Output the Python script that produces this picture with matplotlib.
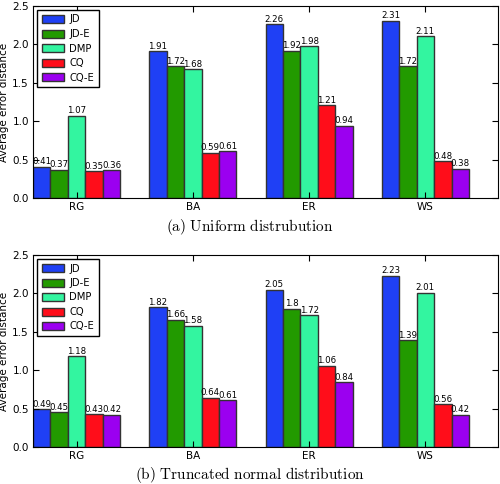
import numpy as np
import matplotlib
matplotlib.use('Agg')
import matplotlib.pyplot as plt

plt.rcParams['mathtext.fontset'] = 'cm'

groups = ['RG', 'BA', 'ER', 'WS']
methods = ['JD', 'JD-E', 'DMP', 'CQ', 'CQ-E']
colors = ['#1f40f5', '#229a00', '#33f5a0', '#ff0d1a', '#9b00f0']

# uniform distribution
uniform = {
    'JD':   [0.41, 1.91, 2.26, 2.31],
    'JD-E': [0.37, 1.72, 1.92, 1.72],
    'DMP':  [1.07, 1.68, 1.98, 2.11],
    'CQ':   [0.35, 0.59, 1.21, 0.48],
    'CQ-E': [0.36, 0.61, 0.94, 0.38],
}
uniform_labels = {
    'JD':   ['0.41', '1.91', '2.26', '2.31'],
    'JD-E': ['0.37', '1.72', '1.92', '1.72'],
    'DMP':  ['1.07', '1.68', '1.98', '2.11'],
    'CQ':   ['0.35', '0.59', '1.21', '0.48'],
    'CQ-E': ['0.36', '0.61', '0.94', '0.38'],
}

# truncated normal distribution
normal = {
    'JD':   [0.49, 1.82, 2.05, 2.23],
    'JD-E': [0.45, 1.66, 1.80, 1.39],
    'DMP':  [1.18, 1.58, 1.72, 2.01],
    'CQ':   [0.43, 0.64, 1.06, 0.56],
    'CQ-E': [0.42, 0.61, 0.84, 0.42],
}
normal_labels = {
    'JD':   ['0.49', '1.82', '2.05', '2.23'],
    'JD-E': ['0.45', '1.66', '1.8', '1.39'],
    'DMP':  ['1.18', '1.58', '1.72', '2.01'],
    'CQ':   ['0.43', '0.64', '1.06', '0.56'],
    'CQ-E': ['0.42', '0.61', '0.84', '0.42'],
}

width = 0.15
x = np.arange(len(groups))


def draw(ax, data, labels):
    for i, m in enumerate(methods):
        bars = ax.bar(x + i * width, data[m], width, align='edge', color=colors[i],
                      edgecolor='#333333', linewidth=1.0, label=m)
        for b, t in zip(bars, labels[m]):
            ax.text(b.get_x() + b.get_width() / 2, b.get_height() + 0.005, t,
                    ha='center', va='bottom', fontsize=6.2)
    ax.set_xlim(0, 4)
    ax.set_ylim(0, 2.5)
    ax.set_yticks([0.0, 0.5, 1.0, 1.5, 2.0, 2.5])
    ax.set_yticklabels(['0.0', '0.5', '1.0', '1.5', '2.0', '2.5'])
    ax.set_xticks(x + 2.5 * width)
    ax.set_xticklabels(groups)
    ax.tick_params(labelsize=7.5, direction='in', length=4, top=True, right=True, pad=3)
    ax.set_ylabel('Average error distance', fontsize=7.5, labelpad=2)
    ax.legend(loc='upper left', fontsize=7.2, handlelength=2.2, handleheight=0.85,
              labelspacing=0.45, borderpad=0.45, handletextpad=0.6,
              fancybox=False, edgecolor='black', framealpha=1, borderaxespad=0.4)


fig = plt.figure(figsize=(5, 4.84), dpi=100)
ax1 = fig.add_axes([33 / 500, (484 - 198) / 484, 465 / 500, 192 / 484])
ax2 = fig.add_axes([33 / 500, (484 - 447) / 484, 465 / 500, 192 / 484])

draw(ax1, uniform, uniform_labels)
draw(ax2, normal, normal_labels)

fig.text(0.5, 1 - 227 / 484, r'$\mathrm{(a)\ Uniform\ distrubution}$',
         ha='center', va='center', fontsize=11)
fig.text(0.5, 1 - 475 / 484, r'$\mathrm{(b)\ Truncated\ normal\ distribution}$',
         ha='center', va='center', fontsize=11)

fig.savefig('out.png', dpi=100)
